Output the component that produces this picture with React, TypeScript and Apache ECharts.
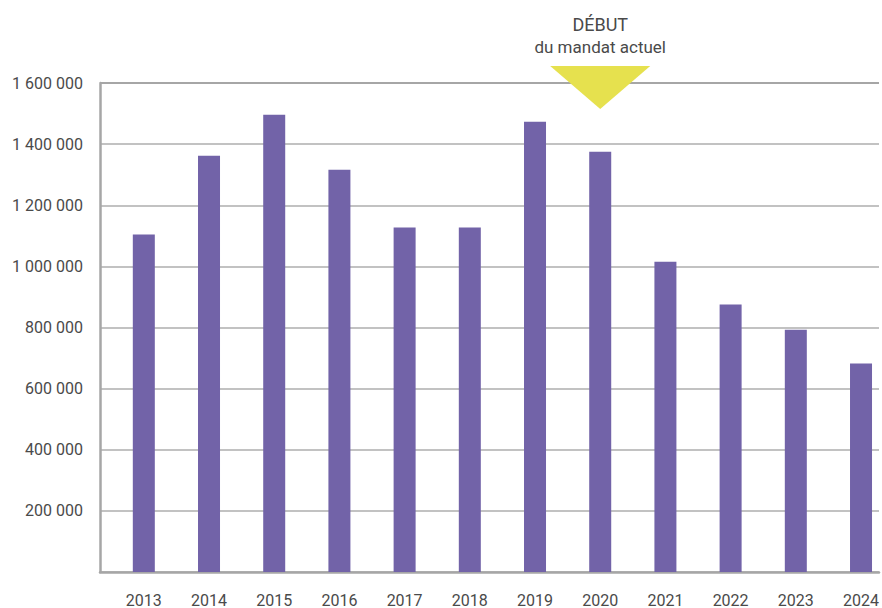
import React, { useEffect, useRef } from "react";
import * as echarts from "echarts";

const years = [2013, 2014, 2015, 2016, 2017, 2018, 2019, 2020, 2021, 2022, 2023, 2024];
const values = [1104000, 1362000, 1496000, 1316000, 1127000, 1127000, 1473000, 1375000, 1015000, 875000, 793000, 682000];
const yMin = 0;
const yMax = 1600000;
const yStep = 200000;
const xMin = 2012.328;
const xMax = 2024.276;
const markYear = 2020;
const markTitle = "DÉBUT";
const markSubtitle = "du mandat actuel";

const fmt = (v: number) => String(v).replace(/\B(?=(\d{3})+(?!\d))/g, " ");

export default function App() {
  const ref = useRef<HTMLDivElement>(null);
  useEffect(() => {
    if (!ref.current) return;
    const chart = echarts.init(ref.current, null, { renderer: "svg" });
    const font = "Roboto, 'Open Sans', sans-serif";
    const gridColors = ["#c2c2c2", "#c2c2c2", "#c2c2c2", "#c2c2c2", "#c2c2c2", "#c2c2c2", "#c2c2c2", "#c2c2c2", "#a6a6a6"];
    chart.setOption({
      animation: false,
      backgroundColor: "#ffffff",
      grid: { left: 100, right: 0, top: 83, bottom: 36, containLabel: false },
      xAxis: {
        type: "value",
        min: xMin,
        max: xMax,
        splitNumber: 12,
        axisLine: { show: true, onZero: false, lineStyle: { color: "#a6a6a6", width: 2.5 } },
        axisTick: { show: false },
        splitLine: { show: false },
        axisLabel: {
          showMinLabel: false,
          showMaxLabel: false,
          margin: 20,
          color: "#4a4a4a",
          fontFamily: font,
          fontSize: 16,
          formatter: (v: number) => (Number.isInteger(v) ? String(v) : ""),
        },
      },
      yAxis: {
        type: "value",
        min: yMin,
        max: yMax,
        interval: yStep,
        axisLine: { show: true, lineStyle: { color: "#a6a6a6", width: 2.5 } },
        axisTick: { show: false },
        splitLine: { show: true, lineStyle: { color: gridColors, width: 2 } },
        axisLabel: {
          margin: 17,
          color: "#4a4a4a",
          fontFamily: font,
          fontSize: 16,
          formatter: (v: number) => (v === 0 ? "" : fmt(v)),
        },
      },
      series: [
        {
          type: "bar",
          data: years.map((y, i) => [y, values[i]]),
          barWidth: 22,
          itemStyle: { color: "#7263a8" },
        },
      ],
    });
    const cx = chart.convertToPixel({ xAxisIndex: 0 }, markYear) as number;
    chart.setOption({
      graphic: [
        {
          type: "polygon",
          z: 100,
          shape: { points: [[cx - 50, 66], [cx + 50, 66], [cx, 109]] },
          style: { fill: "#e6e14e" },
        },
        {
          type: "text",
          z: 100,
          x: cx,
          y: 24,
          style: {
            text: markTitle,
            fill: "#4a4a4a",
            font: `18px ${font}`,
            align: "center",
            verticalAlign: "middle",
          },
        },
        {
          type: "text",
          z: 100,
          x: cx,
          y: 47,
          style: {
            text: markSubtitle,
            fill: "#4a4a4a",
            font: `17px ${font}`,
            align: "center",
            verticalAlign: "middle",
          },
        },
      ],
    });
    return () => chart.dispose();
  }, []);
  return (
    <div
      ref={ref}
      style={{ position: "fixed", left: 0, top: 0, width: 882, height: 608, background: "#fff" }}
    />
  );
}
